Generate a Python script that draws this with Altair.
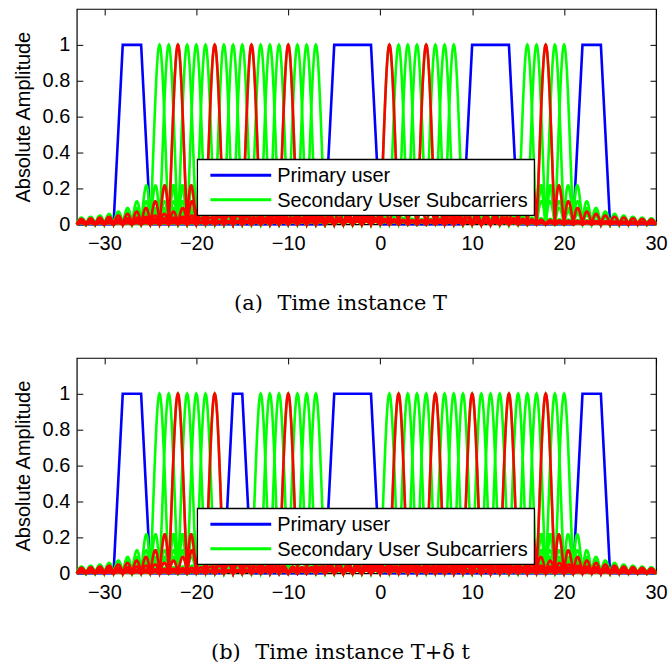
import json
import altair as alt
import pandas as pd

# ---------------- data ----------------
X_DOMAIN = [-33, 30]
Y_DOMAIN = [0, 1.2]
x_ticks = [-30, -20, -10, 0, 10, 20, 30]
y_ticks = [0, 0.2, 0.4, 0.6, 0.8, 1]

# primary-user bands: [start of rise, start of top, end of top, end of fall]
pu_bands_a = [[-29, -28, -26, -25], [-6, -5, -1, 0], [9, 10, 14, 15], [21, 22, 24, 25]]
pu_bands_b = [[-29, -28, -26, -25], [-17, -16, -15, -14], [-6, -5, -1, 0], [21, 22, 24, 25]]
pu_levels = [0, 1, 1, 0]

# secondary-user subcarrier centres (green) and highlighted ones (red)
su_green_a = [-24, -23, -22, -21, -20, -19, -18, -17, -16, -15, -14, -13, -12, -11, -10, -9, -8, -7,
              1, 2, 3, 4, 5, 6, 7, 8,
              16, 17, 18, 19, 20]
su_red_a = [-22, -18, -14, -10, 1, 5, 18]
su_green_b = [-24, -23, -22, -21, -20, -19, -18,
              -13, -12, -11, -10, -9, -8, -7,
              1, 2, 3, 4, 5, 6, 7, 8, 9, 10, 11, 12, 13, 14, 15, 16, 17, 18, 19, 20]
su_red_b = [-22, -18, -10, 2, 6, 10, 14, 18]

legend_labels = ["Primary user", "Secondary User Subcarriers"]
captions = ["(a)\u2002\u2009Time instance T", "(b)\u2002\u2009Time instance T+\u03b4 t"]

BLUE, GREEN, RED = "#0000ff", "#00ff00", "#ff0000"
legend_colors = [BLUE, GREEN]

W, H = 581, 216
LW = 2.6
SANS = "Liberation Sans"

xs = alt.Scale(domain=X_DOMAIN, nice=False, zero=False)
ys = alt.Scale(domain=Y_DOMAIN, nice=False, zero=False)

common_axis = dict(offset=-6, tickSize=6, tickColor="black", tickWidth=1, domain=False, grid=False)
ax_bottom = alt.Axis(orient="bottom", values=x_ticks, format="d", labelFontSize=20, labelFont=SANS,
                     labelColor="black", labelPadding=9, labelFlush=False, labelOverlap=False,
                     title=None, **common_axis)
ax_top = alt.Axis(orient="top", values=x_ticks, labels=False, title=None, **common_axis)
ax_left = alt.Axis(orient="left", values=y_ticks, format=".1~f", labelFontSize=20, labelFont=SANS,
                   labelColor="black", labelPadding=7, labelOverlap=False,
                   title="Absolute Amplitude", titleFont=SANS, titleFontSize=20,
                   titleFontWeight="normal", titleColor="black", titlePadding=9, **common_axis)
ax_right = alt.Axis(orient="right", values=y_ticks, labels=False, title=None, **common_axis)


def pu_frame(bands):
    xv, yv = [X_DOMAIN[0]], [0]
    for b in bands:
        xv += b
        yv += pu_levels
    xv.append(X_DOMAIN[1])
    yv.append(0)
    return pd.DataFrame({"x": xv, "y": yv, "o": list(range(len(xv)))})


def su_base(centers):
    return (
        alt.Chart(alt.sequence(-3300, 3001, 5, as_="i"))
        .transform_calculate(x="datum.i / 100")
        .transform_calculate(c=json.dumps(centers))
        .transform_flatten(["c"])
        .transform_calculate(d="datum.x - datum.c")
        .transform_calculate(y="datum.d == 0 ? 1 : abs(sin(PI * datum.d) / (PI * datum.d))")
    )


def panel(bands, greens, reds, caption):
    blue = alt.Chart(pu_frame(bands)).mark_line(color=BLUE, strokeWidth=LW).encode(
        x=alt.X("x:Q", scale=xs, axis=ax_bottom),
        y=alt.Y("y:Q", scale=ys, axis=ax_left),
        order="o:Q",
    )
    green = su_base(greens).mark_line(color=GREEN, strokeWidth=LW).encode(
        x=alt.X("x:Q", scale=xs, axis=ax_top),
        y=alt.Y("y:Q", scale=ys, axis=ax_right),
        detail="c:N",
    )
    red = su_base(reds).mark_line(color=RED, strokeWidth=LW).encode(
        x=alt.X("x:Q", scale=xs, axis=None),
        y=alt.Y("y:Q", scale=ys, axis=None),
        detail="c:N",
    )
    box = alt.Chart(alt.Data(values=[{"k": 0}])).mark_rect(
        fill="white", stroke="black", strokeWidth=1.3
    ).encode(x=alt.value(121), x2=alt.value(459), y=alt.value(151), y2=alt.value(207))
    layers = [blue, green, red, box]
    for i, (lab, col) in enumerate(zip(legend_labels, legend_colors)):
        ly = 166.7 + i * 24.6
        src = alt.Data(values=[{"label": lab}])
        layers.append(
            alt.Chart(src).mark_rule(color=col, strokeWidth=3).encode(
                x=alt.value(134), x2=alt.value(195), y=alt.value(ly)
            )
        )
        layers.append(
            alt.Chart(src).mark_text(align="left", baseline="middle", font=SANS, fontSize=20,
                                     color="black").encode(
                x=alt.value(201), y=alt.value(ly + 1), text="label:N"
            )
        )
    return alt.layer(*layers).resolve_axis(x="independent", y="independent").properties(
        width=W, height=H,
        title=alt.TitleParams(caption, orient="bottom", anchor="middle", frame="group", dx=-26,
                              offset=57, baseline="alphabetic", font="DejaVu Serif", fontSize=21,
                              fontWeight="normal", color="black"),
    )


chart = alt.vconcat(
    panel(pu_bands_a, su_green_a, su_red_a, captions[0]),
    panel(pu_bands_b, su_green_b, su_red_b, captions[1]),
    spacing=134,
    bounds="flush",
).configure(
    padding={"left": 12, "top": 6, "right": 2, "bottom": 2}
).configure_view(stroke="black", strokeWidth=1.2)

chart.save("out.html", embed_options={"renderer": "svg", "actions": False})
